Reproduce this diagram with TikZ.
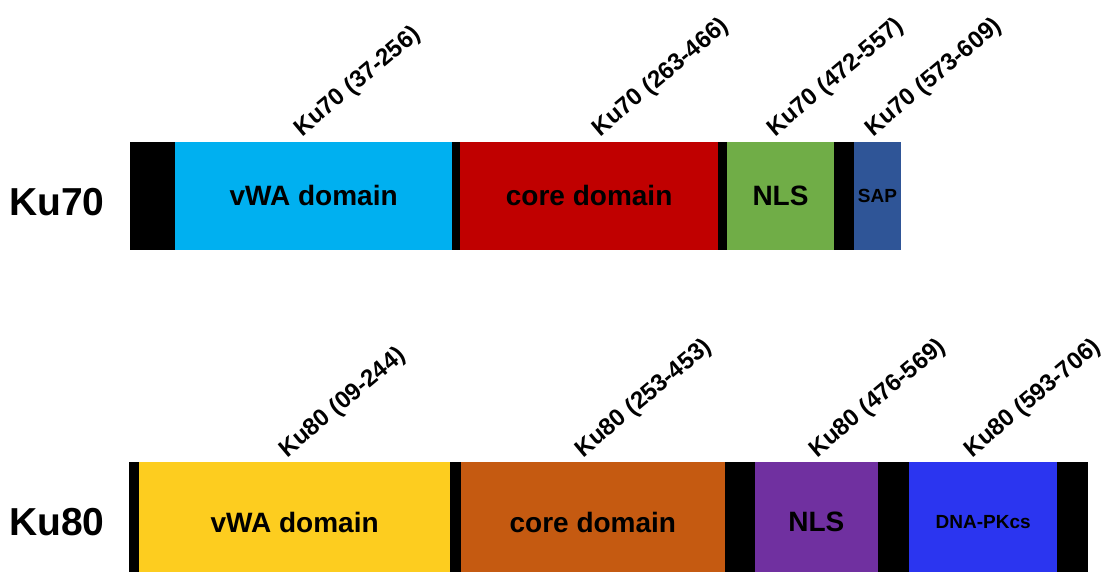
\documentclass[tikz,border=0pt]{standalone}
\usepackage{fontspec}
\setmainfont{Liberation Sans}
\definecolor{kcyan}{HTML}{00B0F0}
\definecolor{kred}{HTML}{C00000}
\definecolor{kgreen}{HTML}{70AD47}
\definecolor{ksap}{HTML}{2F5597}
\definecolor{kyellow}{HTML}{FDCD1F}
\definecolor{korange}{HTML}{C55A11}
\definecolor{kpurple}{HTML}{7030A0}
\definecolor{kblue}{HTML}{2B35F0}
\begin{document}
\begin{tikzpicture}[x=1pt,y=-1pt,
  seg/.style={rectangle,inner sep=0pt,outer sep=0pt,draw=none,anchor=center,
    font=\fontsize{28}{30}\selectfont\bfseries},
  row70/.style={minimum height=108.3pt},
  row80/.style={minimum height=120.6pt},
  small/.style={font=\fontsize{19}{21}\selectfont\bfseries},
  rng/.style={inner sep=0pt,outer sep=0pt,anchor=base west,rotate=40,
    font=\fontsize{24}{26}\selectfont\bfseries},
  big/.style={inner sep=0pt,anchor=base,font=\fontsize{39}{41}\selectfont\bfseries}]
\useasboundingbox (0,0) rectangle (1104,571);
\clip (0,0) rectangle (1104,571);
% Ku70 row
\node[seg,row70,fill=black,minimum width=45pt] (a1) at (152.5,195.85) {};
\node[seg,row70,fill=kcyan,minimum width=277.3pt] (a2) at (313.65,195.85) {vWA domain};
\node[seg,row70,fill=black,minimum width=7.7pt] (a3) at (456.15,195.85) {};
\node[seg,row70,fill=kred,minimum width=258.3pt] (a4) at (589.15,195.85) {core domain};
\node[seg,row70,fill=black,minimum width=8.4pt] (a5) at (722.5,195.85) {};
\node[seg,row70,fill=kgreen,minimum width=107.6pt] (a6) at (780.5,195.85) {NLS};
\node[seg,row70,fill=black,minimum width=19.7pt] (a7) at (844.15,195.85) {};
\node[seg,row70,small,fill=ksap,minimum width=47pt] (a8) at (877.5,195.85) {SAP};
\node[big] (l70) at (57,215) {Ku70};
\node[rng] (r1) at (302,137) {Ku70 (37-256)};
\node[rng] (r2) at (600,137) {Ku70 (263-466)};
\node[rng] (r3) at (775,137) {Ku70 (472-557)};
\node[rng] (r4) at (873,137) {Ku70 (573-609)};
% Ku80 row
\node[seg,row80,fill=black,minimum width=10pt] (b1) at (134.3,522) {};
\node[seg,row80,fill=kyellow,minimum width=310.7pt] (b2) at (294.65,522) {vWA domain};
\node[seg,row80,fill=black,minimum width=10.7pt] (b3) at (455.35,522) {};
\node[seg,row80,fill=korange,minimum width=264.3pt] (b4) at (592.85,522) {core domain};
\node[seg,row80,fill=black,minimum width=30pt] (b5) at (740,522) {};
\node[seg,row80,fill=kpurple,minimum width=122.7pt] (b6) at (816.35,522) {NLS};
\node[seg,row80,fill=black,minimum width=31.3pt] (b7) at (893.35,522) {};
\node[seg,row80,small,fill=kblue,minimum width=148.3pt] (b8) at (983.15,522) {DNA-PKcs};
\node[seg,row80,fill=black,minimum width=30.4pt] (b9) at (1072.5,522) {};
\node[big] (l80) at (57,535) {Ku80};
\node[rng] (s1) at (287,458) {Ku80 (09-244)};
\node[rng] (s2) at (583,458) {Ku80 (253-453)};
\node[rng] (s3) at (817,458) {Ku80 (476-569)};
\node[rng] (s4) at (972,458) {Ku80 (593-706)};
\end{tikzpicture}
\end{document}
